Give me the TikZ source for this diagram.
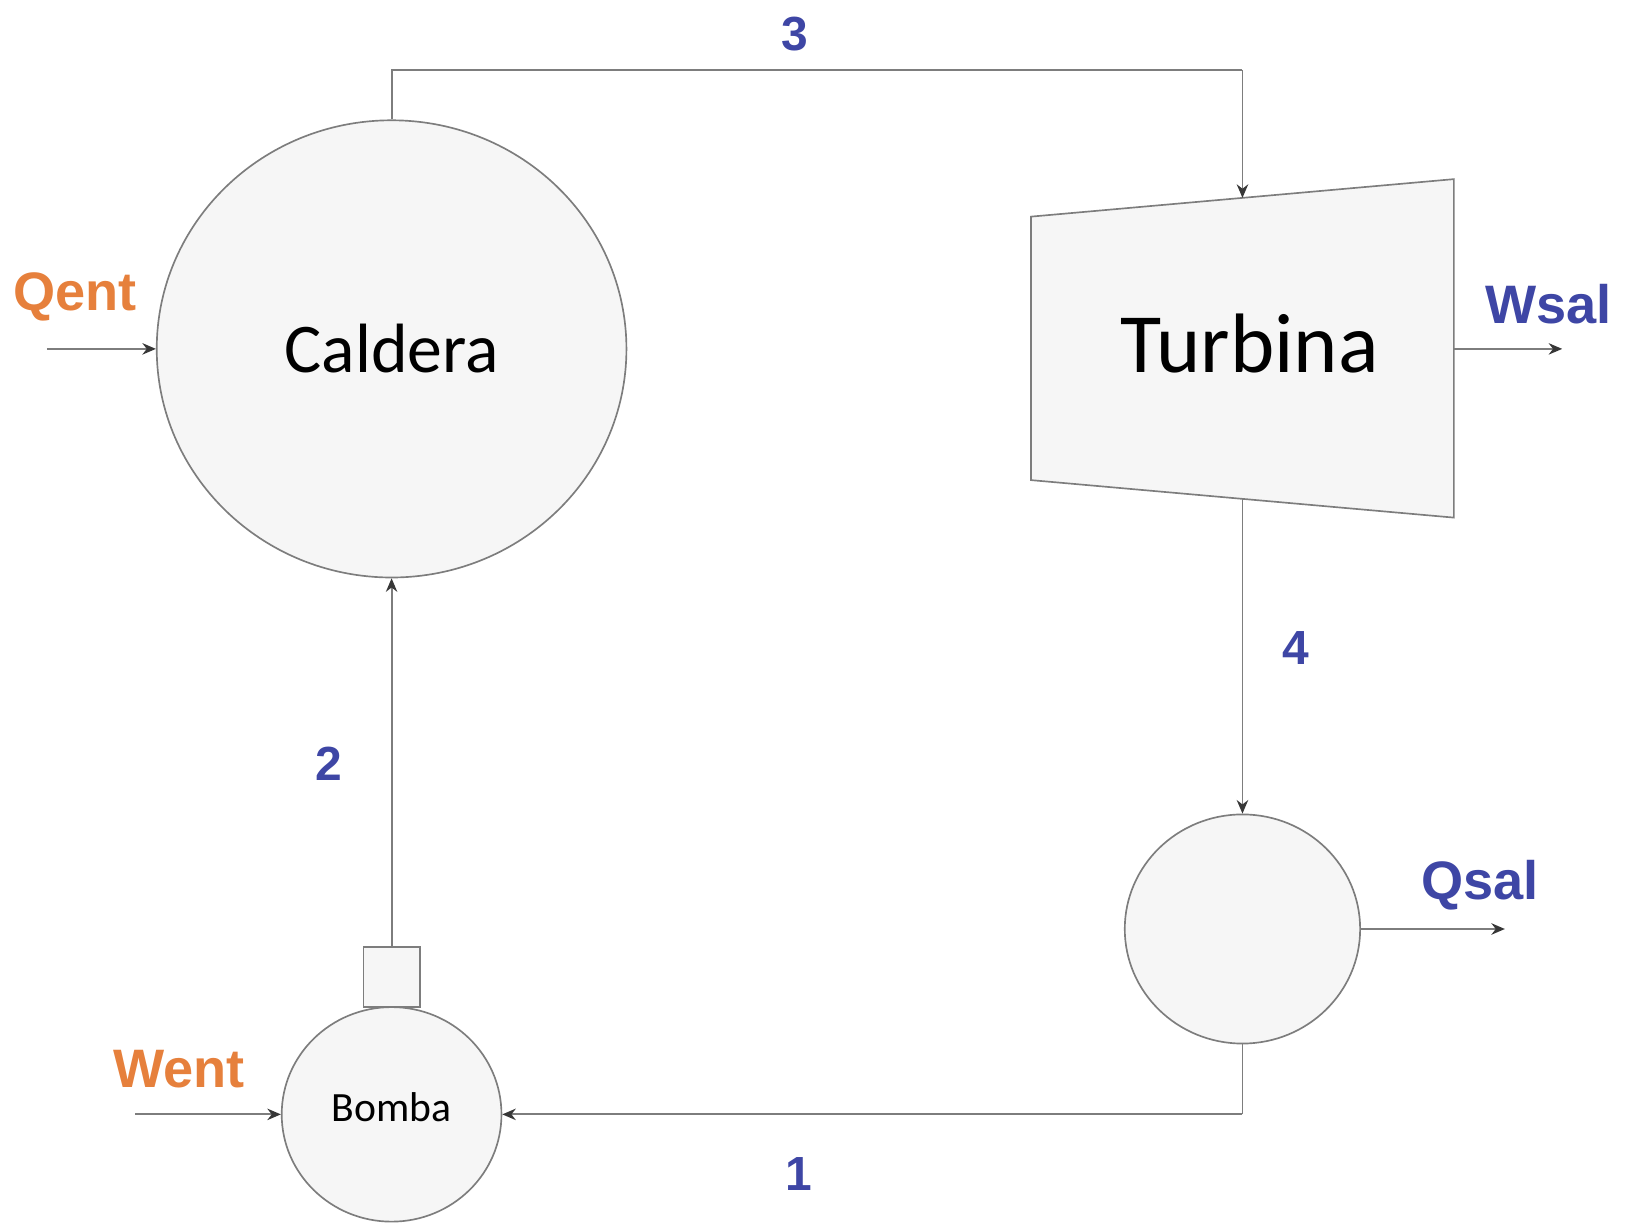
\documentclass[tikz,border=0pt]{standalone}
\usepackage{fontspec}
\setmainfont{Carlito}
\newfontfamily\lblfont{Liberation Sans}
\usetikzlibrary{arrows.meta,shapes.geometric}
\definecolor{lblblue}{RGB}{62,70,165}
\definecolor{lblorange}{RGB}{230,128,60}
\definecolor{linegray}{RGB}{125,125,125}
\definecolor{tipgray}{RGB}{55,55,55}
\definecolor{shapefill}{RGB}{246,246,246}
\tikzset{
  x=1pt, y=1pt,
  unit/.style={draw=linegray, line width=1.6pt, fill=shapefill, inner sep=0pt},
  pipe/.style={draw=linegray, line width=1.8pt},
  flow/.style={pipe, -{Stealth[length=13pt,width=11pt,color=tipgray]}},
  statelbl/.style={font=\lblfont\bfseries\fontsize{46}{50}\selectfont, text=lblblue, inner sep=0pt},
  bluelbl/.style={font=\lblfont\bfseries\fontsize{52}{56}\selectfont, text=lblblue, inner sep=0pt},
  orangelbl/.style={font=\lblfont\bfseries\fontsize{52}{56}\selectfont, text=lblorange, inner sep=0pt},
}
\begin{document}
\begin{tikzpicture}
\useasboundingbox (0,0) rectangle (1568,-1176);
% Caldera
\node[unit, ellipse, minimum width=451pt, minimum height=439pt, font=\fontsize{67}{70}\selectfont] (cald) at (376,-335) {Caldera};
% Turbine
\coordinate (ttl) at (990,-208);
\coordinate (ttr) at (1396,-172);
\coordinate (tbr) at (1396,-497);
\coordinate (tbl) at (990,-461);
\draw[unit] (ttl) -- (ttr) -- (tbr) -- (tbl) -- cycle;
\node[font=\fontsize{81}{84}\selectfont, inner sep=0pt] (turb) at (1200,-330) {Turbina};
\coordinate (tin) at (1193,-190);
\coordinate (tout) at (1193,-479);
\coordinate (tright) at (1396,-335);
% Condenser
\node[unit, ellipse, minimum width=226pt, minimum height=220pt] (cond) at (1193,-892) {};
% Pump
\node[unit, ellipse, minimum width=211pt, minimum height=206pt] (bomba) at (376,-1070) {};
\node[font=\fontsize{40}{44}\selectfont, inner sep=0pt] (bombalbl) at (376,-1063) {Bomba};
\node[unit, rectangle, minimum width=54pt, minimum height=58pt, anchor=south] (motor) at (376,-968) {};
% free ends
\coordinate (qentstart) at (45,-335);
\coordinate (wsalend) at (1500,-335);
\coordinate (qsalend) at (1445,-892);
\coordinate (wentstart) at (130,-1070);
\coordinate (c3) at (376,-67);
\coordinate (c3b) at (1193,-67);
\coordinate (c1) at (1193,-1070);
% connectors
\draw[pipe] (cald.north) -- (c3) -- (c3b);
\draw[flow] (c3b) -- (tin);
\draw[flow] (tout) -- (cond.north);
\draw[pipe] (cond.south) -- (c1);
\draw[flow] (c1) -- (bomba.east);
\draw[flow] (motor.north) -- (cald.south);
\draw[flow] (qentstart) -- (cald.west);
\draw[flow] (wentstart) -- (bomba.west);
\draw[flow] (tright) -- (wsalend);
\draw[flow] (cond.east) -- (qsalend);
% labels
\node[statelbl] (l3) at (763,-33) {3};
\node[statelbl] (l4) at (1244,-622) {4};
\node[statelbl] (l2) at (316,-733) {2};
\node[statelbl] (l1) at (767,-1127) {1};
\node[orangelbl] (lqent) at (72,-285) {Qent};
\node[orangelbl] (lwent) at (172,-1027) {Went};
\node[bluelbl] (lwsal) at (1487,-292) {Wsal};
\node[bluelbl] (lqsal) at (1421,-850) {Qsal};
\end{tikzpicture}
\end{document}
